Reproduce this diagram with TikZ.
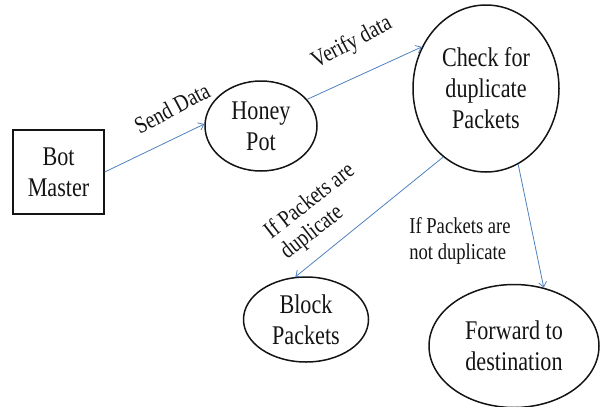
\documentclass[tikz,border=0pt]{standalone}
\usepackage{fontspec}
\setmainfont[FakeStretch=0.82]{Liberation Serif}
\usetikzlibrary{shapes.geometric,arrows.meta}
\definecolor{flow}{RGB}{79,129,189}
\definecolor{ink}{RGB}{20,20,20}
\begin{document}
\begin{tikzpicture}[x=1pt,y=-1pt,
  every node/.style={text=ink},
  stepbox/.style={draw=ink,line width=1.5pt,inner sep=0pt,align=center,
    font=\fontsize{27}{31}\selectfont},
  oval/.style={ellipse,draw=ink,line width=1.5pt,inner sep=0pt,align=center,
    font=\fontsize{27}{31}\selectfont},
  lbl/.style={inner sep=0pt,align=left,font=\fontsize{22.7}{26}\selectfont},
  rlbl/.style={inner sep=0pt,align=left,font=\fontsize{24}{26}\selectfont},
  flowline/.style={draw=flow,line width=0.8pt,-{Straight Barb[length=5pt,width=8pt]}}
]
\useasboundingbox (0,0) rectangle (600,407);

% processes
\node[stepbox,minimum width=91pt,minimum height=84pt] (bot) at (58.5,172) {Bot\\Master};
\node[oval,minimum width=112pt,minimum height=90pt] (hp) at (261,126) {Honey\\Pot};
\node[oval,minimum width=146pt,minimum height=167pt] (chk) at (486,88.5) {Check for\\duplicate\\Packets};
\node[oval,minimum width=125pt,minimum height=85pt] (blk) at (306,319.5) {Block\\Packets};
\node[oval,minimum width=170pt,minimum height=123pt] (fwd) at (514,346) {Forward to\\destination};

% flows
\draw[flowline] (bot.east) -- (hp.178);
\draw[flowline] (hp.30) -- (chk.147);
\draw[flowline] (chk.-122) -- (blk.104);
\draw[flowline] (chk.-67) -- (fwd.63);

% flow labels
\node[rlbl,rotate=28] (lsend) at (172,108) {Send Data};
\node[rlbl,rotate=28] (lver) at (352,43) {Verify data};
\node[rlbl,rotate=38] (ldup) at (318,212) {If Packets are\\duplicate};
\node[lbl] (lnot) at (460,241) {If Packets are\\not duplicate};
\end{tikzpicture}
\end{document}
